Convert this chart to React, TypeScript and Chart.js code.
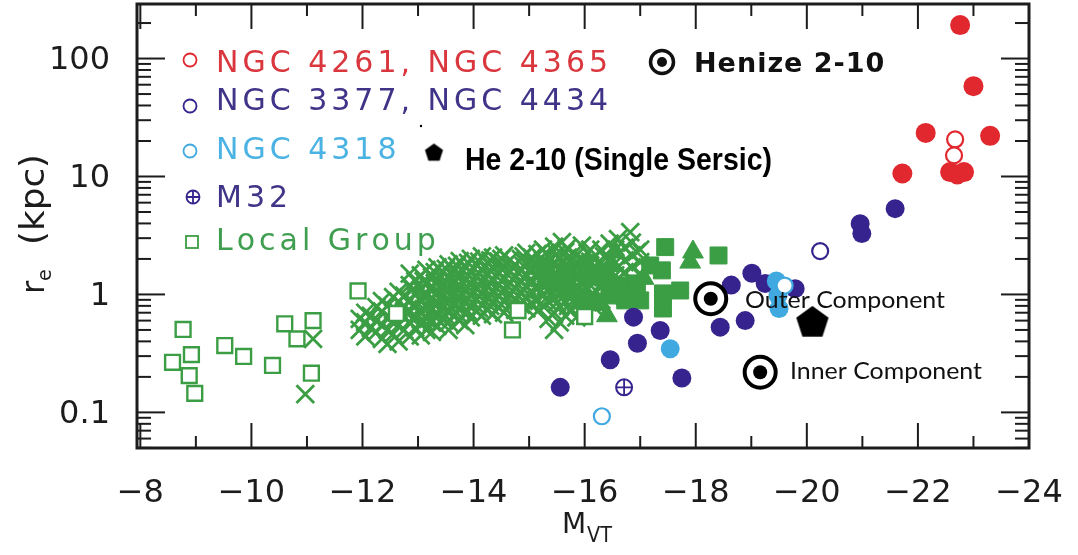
import React, { useEffect, useRef } from 'react';
import { Chart, registerables } from 'chart.js';

Chart.register(...registerables);

// ---------- axis ticks ----------
const X_TICKS = [-8, -10, -12, -14, -16, -18, -20, -22, -24];
const X_MINOR = [-9, -11, -13, -15, -17, -19, -21, -23];
const Y_TICKS = [0.1, 1, 10, 100];

// ---------- data: [M_VT, r_e (kpc)] ----------
const RED_FILLED: [number, number][] = [
  [-22.76, 192], [-23.0, 58.3], [-22.14, 23.4], [-23.3, 22.1], [-21.72, 10.6],
  [-22.58, 10.9], [-22.83, 10.9], [-22.71, 10.4],
];
const RED_OPEN: [number, number][] = [[-22.67, 20.6], [-22.65, 15.1]];

const NAVY_FILLED: [number, number][] = [
  [-15.56, 0.163], [-16.46, 0.279], [-16.88, 0.642], [-16.95, 0.386], [-17.36, 0.495],
  [-17.75, 0.196], [-18.44, 0.528], [-18.89, 0.6], [-18.64, 1.2], [-19.01, 1.51],
  [-19.25, 1.24], [-19.79, 1.12], [-20.96, 3.98], [-20.99, 3.28], [-21.59, 5.34],
];
const NAVY_OPEN: [number, number][] = [[-20.24, 2.33]];

const LBLUE_FILLED: [number, number][] = [[-17.54, 0.346], [-19.45, 1.3], [-19.48, 0.98], [-19.5, 0.76]];
const LBLUE_OPEN: [number, number][] = [[-16.31, 0.0927], [-19.6, 1.19]];

const M32: [number, number][] = [[-16.71, 0.163]];

const HENIZE_COMPONENTS: [number, number][] = [[-18.27, 0.92], [-19.16, 0.219]];
const HE_SINGLE_SERSIC: [number, number][] = [[-20.1, 0.574]];

const LG_OPEN_SQUARES: [number, number][] = [
  [-8.77, 0.505], [-8.58, 0.266], [-8.92, 0.309], [-8.88, 0.205], [-8.98, 0.145],
  [-9.52, 0.369], [-9.86, 0.298], [-10.38, 0.25], [-10.6, 0.564], [-10.82, 0.42],
  [-11.11, 0.6], [-11.08, 0.215], [-11.92, 1.07], [-12.61, 0.69], [-14.8, 0.73],
  [-14.7, 0.5], [-16.0, 0.65],
];

const LG_FILLED_SQUARES: [number, number][] = [
  [-17.45, 2.52], [-18.41, 2.14], [-16.01, 1.82], [-16.06, 1.45], [-16.31, 1.45],
  [-16.69, 1.19], [-16.94, 1.24], [-17.39, 1.6], [-17.41, 1.02], [-17.41, 0.76],
  [-16.51, 0.98], [-16.22, 0.86], [-15.79, 1.05], [-15.68, 1.55], [-15.38, 1.31],
  [-17.0, 0.89], [-17.18, 1.76], [-16.46, 1.19], [-16.73, 0.89], [-15.92, 0.89],
  [-15.28, 1.76], [-17.72, 1.08],
];

const LG_TRIANGLES: [number, number][] = [
  [-17.95, 2.29], [-17.9, 1.88], [-16.55, 2.29], [-16.49, 1.76], [-16.4, 0.66], [-17.06, 1.37],
];

const LG_CROSSES: [number, number][] = [
  [-11.11, 0.42], [-10.97, 0.143],
  [-11.95, 0.5], [-11.95, 0.62],
  [-12.05, 0.44], [-12.05, 0.58], [-12.05, 0.7],
  [-12.15, 0.52], [-12.15, 0.66],
  [-12.25, 0.48], [-12.25, 0.6], [-12.25, 0.78],
  [-12.35, 0.42], [-12.35, 0.55], [-12.35, 0.72], [-12.35, 0.88],
  [-12.45, 0.38], [-12.45, 0.5], [-12.45, 0.64], [-12.45, 0.8],
  [-12.55, 0.46], [-12.55, 0.6], [-12.55, 0.74], [-12.55, 0.95],
  [-12.65, 0.4], [-12.65, 0.55], [-12.65, 0.7], [-12.65, 0.86], [-12.65, 1.05],
  [-12.75, 0.5], [-12.75, 0.64], [-12.75, 0.78], [-12.75, 0.98],
  [-12.85, 0.44], [-12.85, 0.58], [-12.85, 0.72], [-12.85, 0.9], [-12.85, 1.2], [-12.85, 1.5],
  [-12.95, 0.52], [-12.95, 0.66], [-12.95, 0.82], [-12.95, 1.02], [-12.95, 1.3],
  [-13.05, 0.45], [-13.05, 0.56], [-13.05, 0.7], [-13.05, 0.88], [-13.05, 1.1], [-13.05, 1.45],
  [-13.15, 0.5], [-13.15, 0.62], [-13.15, 0.78], [-13.15, 0.96], [-13.15, 1.22], [-13.15, 1.62],
  [-13.25, 0.48], [-13.25, 0.58], [-13.25, 0.74], [-13.25, 0.92], [-13.25, 1.15], [-13.25, 1.4],
  [-13.35, 0.54], [-13.35, 0.68], [-13.35, 0.84], [-13.35, 1.05], [-13.35, 1.3], [-13.35, 1.7],
  [-13.45, 0.62], [-13.45, 0.78], [-13.45, 0.98], [-13.45, 1.2], [-13.45, 1.55],
  [-13.55, 0.5], [-13.55, 0.58], [-13.55, 0.72], [-13.55, 0.9], [-13.55, 1.12], [-13.55, 1.38], [-13.55, 1.8],
  [-13.65, 0.66], [-13.65, 0.82], [-13.65, 1.02], [-13.65, 1.28], [-13.65, 1.6],
  [-13.75, 0.6], [-13.75, 0.76], [-13.75, 0.94], [-13.75, 1.18], [-13.75, 1.48], [-13.75, 1.92],
  [-13.85, 0.55], [-13.85, 0.7], [-13.85, 0.86], [-13.85, 1.08], [-13.85, 1.34], [-13.85, 1.7],
  [-13.95, 0.64], [-13.95, 0.8], [-13.95, 1.0], [-13.95, 1.24], [-13.95, 1.55], [-13.95, 2.0],
  [-14.05, 0.72], [-14.05, 0.9], [-14.05, 1.12], [-14.05, 1.4], [-14.05, 1.8],
  [-14.15, 0.66], [-14.15, 0.82], [-14.15, 1.04], [-14.15, 1.3], [-14.15, 1.62], [-14.15, 2.1],
  [-14.25, 0.74], [-14.25, 0.92], [-14.25, 1.16], [-14.25, 1.45], [-14.25, 1.85],
  [-14.35, 0.68], [-14.35, 0.86], [-14.35, 1.08], [-14.35, 1.35], [-14.35, 1.7], [-14.35, 2.05],
  [-14.45, 0.78], [-14.45, 0.96], [-14.45, 1.2], [-14.45, 1.5], [-14.45, 1.9],
  [-14.55, 0.7], [-14.55, 0.88], [-14.55, 1.1], [-14.55, 1.38], [-14.55, 1.75], [-14.55, 2.15],
  [-14.65, 0.8], [-14.65, 1.0], [-14.65, 1.25], [-14.65, 1.55], [-14.65, 1.95],
  [-14.75, 0.74], [-14.75, 0.92], [-14.75, 1.14], [-14.75, 1.42], [-14.75, 1.78],
  [-14.85, 0.82], [-14.85, 1.02], [-14.85, 1.28], [-14.85, 1.6], [-14.85, 2.0],
  [-14.95, 0.76], [-14.95, 0.95], [-14.95, 1.18], [-14.95, 1.48], [-14.95, 1.85], [-14.95, 2.25],
  [-15.05, 0.84], [-15.05, 1.05], [-15.05, 1.32], [-15.05, 1.65], [-15.05, 2.05],
  [-15.15, 0.72], [-15.15, 0.9], [-15.15, 1.12], [-15.15, 1.4], [-15.15, 1.75], [-15.15, 2.2],
  [-15.25, 0.8], [-15.25, 1.0], [-15.25, 1.25], [-15.25, 1.56], [-15.25, 1.95], [-15.25, 2.4],
  [-15.35, 0.62], [-15.35, 0.86], [-15.35, 1.08], [-15.35, 1.35], [-15.35, 1.68], [-15.35, 2.1],
  [-15.45, 0.5], [-15.45, 0.7], [-15.45, 0.94], [-15.45, 1.18], [-15.45, 1.48], [-15.45, 1.85], [-15.45, 2.55],
  [-15.55, 0.58], [-15.55, 0.78], [-15.55, 1.02], [-15.55, 1.28], [-15.55, 1.6], [-15.55, 2.0],
  [-15.65, 0.66], [-15.65, 0.88], [-15.65, 1.1], [-15.65, 1.4], [-15.65, 1.75], [-15.65, 2.3],
  [-15.75, 0.72], [-15.75, 0.96], [-15.75, 1.2], [-15.75, 1.52], [-15.75, 1.9],
  [-15.85, 0.64], [-15.85, 0.84], [-15.85, 1.06], [-15.85, 1.34], [-15.85, 1.68], [-15.85, 2.15],
  [-15.95, 0.78], [-15.95, 1.0], [-15.95, 1.26], [-15.95, 1.58], [-15.95, 2.0], [-15.95, 2.6],
  [-16.05, 0.86], [-16.05, 1.1], [-16.05, 1.4], [-16.05, 1.75], [-16.05, 2.25],
  [-16.15, 0.8], [-16.15, 1.02], [-16.15, 1.3], [-16.15, 1.62], [-16.15, 2.05],
  [-16.3, 0.9], [-16.3, 1.15], [-16.3, 1.45], [-16.3, 1.85], [-16.3, 2.4],
  [-16.45, 0.96], [-16.45, 1.22], [-16.45, 1.55], [-16.45, 2.0], [-16.45, 2.7],
  [-16.6, 1.05], [-16.6, 1.35], [-16.6, 1.7], [-16.6, 2.2], [-16.6, 2.95],
  [-16.72, 1.2], [-16.72, 1.55], [-16.72, 1.95], [-16.72, 2.5], [-16.82, 3.38],
  [-16.85, 1.3], [-16.85, 1.7], [-16.85, 2.15], [-16.85, 2.75],
  [-17.0, 1.5], [-17.0, 1.88], [-17.0, 2.4], [-16.94, 2.29],
  [-15.59, 2.78], [-15.68, 2.46],
  [-12.9, 0.62], [-12.9, 0.8], [-12.9, 1.1],
  [-13.1, 0.6], [-13.1, 0.75], [-13.1, 0.95], [-13.1, 1.3],
  [-13.3, 0.65], [-13.3, 0.82], [-13.3, 1.0], [-13.3, 1.25], [-13.3, 1.55],
  [-13.5, 0.66], [-13.5, 0.85], [-13.5, 1.05], [-13.5, 1.3], [-13.5, 1.65],
  [-13.7, 0.7], [-13.7, 0.9], [-13.7, 1.1], [-13.7, 1.4], [-13.7, 1.75],
  [-13.9, 0.72], [-13.9, 0.92], [-13.9, 1.15], [-13.9, 1.45], [-13.9, 1.85],
  [-14.1, 0.76], [-14.1, 0.96], [-14.1, 1.2], [-14.1, 1.5], [-14.1, 1.9],
  [-14.3, 0.8], [-14.3, 1.0], [-14.3, 1.25], [-14.3, 1.6], [-14.3, 1.95],
  [-14.5, 0.82], [-14.5, 1.04], [-14.5, 1.3], [-14.5, 1.65], [-14.5, 2.0],
  [-14.7, 0.86], [-14.7, 1.08], [-14.7, 1.35], [-14.7, 1.7],
  [-14.9, 0.88], [-14.9, 1.1], [-14.9, 1.38], [-14.9, 1.75], [-14.9, 2.1],
  [-15.1, 0.9], [-15.1, 1.15], [-15.1, 1.45], [-15.1, 1.8],
  [-15.3, 0.92], [-15.3, 1.18], [-15.3, 1.5], [-15.3, 1.85], [-15.3, 2.25],
  [-15.5, 0.85], [-15.5, 1.1], [-15.5, 1.4], [-15.5, 1.75], [-15.5, 2.2],
  [-15.7, 0.8], [-15.7, 1.05], [-15.7, 1.3], [-15.7, 1.65], [-15.7, 2.05],
  [-15.9, 0.9], [-15.9, 1.15], [-15.9, 1.45], [-15.9, 1.8],
  [-16.1, 0.95], [-16.1, 1.2], [-16.1, 1.5], [-16.1, 1.9], [-16.1, 2.4],
  [-16.35, 1.05], [-16.35, 1.3], [-16.35, 1.65], [-16.35, 2.1],
  [-16.55, 1.1], [-16.55, 1.45], [-16.55, 1.85], [-16.55, 2.4],
];

// ---------- colours ----------
const RED = '#e0282e';
const NAVY = '#37238e';
const LBLUE = '#3fa9e0';
const GREEN = '#3c9e44';
const INK = '#1c1c1c';

const pts = (a: [number, number][]) => a.map(([x, y]) => ({ x, y }));

function pentagonImage(R: number, color: string) {
  const c = document.createElement('canvas');
  const s = Math.ceil(2 * R + 4);
  c.width = s;
  c.height = s;
  const g = c.getContext('2d')!;
  g.fillStyle = color;
  g.beginPath();
  for (let i = 0; i < 5; i++) {
    const a = -Math.PI / 2 + (i * 2 * Math.PI) / 5;
    const px = s / 2 + R * Math.cos(a);
    const py = s / 2 + R * Math.sin(a);
    if (i === 0) g.moveTo(px, py);
    else g.lineTo(px, py);
  }
  g.closePath();
  g.fill();
  return c;
}

function drawSpaced(ctx: CanvasRenderingContext2D, text: string, x: number, y: number, spacing: number) {
  let cx = x;
  for (const ch of text) {
    ctx.fillText(ch, cx, y);
    cx += ctx.measureText(ch).width + spacing;
  }
}

function drawFit(ctx: CanvasRenderingContext2D, text: string, x: number, y: number, width: number) {
  const w = ctx.measureText(text).width;
  ctx.save();
  ctx.translate(x, y);
  ctx.scale(width / w, 1);
  ctx.fillText(text, 0, 0);
  ctx.restore();
}

const framePlugin = {
  id: 'frameTicks',
  afterDatasetsDraw(chart: any) {
    const { ctx, chartArea: a, scales } = chart;
    const xs = scales.x;
    const ys = scales.y;
    ctx.save();
    ctx.strokeStyle = INK;
    ctx.lineWidth = 2;
    const line = (x1: number, y1: number, x2: number, y2: number) => {
      ctx.beginPath();
      ctx.moveTo(x1, y1);
      ctx.lineTo(x2, y2);
      ctx.stroke();
    };
    for (const v of X_TICKS) {
      const p = xs.getPixelForValue(v);
      line(p, a.bottom, p, a.bottom - 25);
      line(p, a.top, p, a.top + 25);
    }
    for (const v of X_MINOR) {
      const p = xs.getPixelForValue(v);
      line(p, a.bottom, p, a.bottom - 12);
      line(p, a.top, p, a.top + 12);
    }
    for (let d = -2; d <= 2; d++) {
      for (let m = 1; m <= 9; m++) {
        const val = m * Math.pow(10, d);
        if (val < ys.min || val > ys.max) continue;
        const p = ys.getPixelForValue(val);
        const len = m === 1 ? 28 : 14;
        line(a.left, p, a.left + len, p);
        line(a.right, p, a.right - len, p);
      }
    }
    ctx.lineWidth = 3;
    ctx.strokeRect(a.left, a.top, a.right - a.left, a.bottom - a.top);
    ctx.restore();
  },
};

const annotationPlugin = {
  id: 'annotations',
  afterDraw(chart: any) {
    const ctx: CanvasRenderingContext2D = chart.ctx;
    ctx.save();
    ctx.textBaseline = 'alphabetic';
    ctx.textAlign = 'left';

    // legend rows
    const rows: { text: string; color: string; marker: string; mx: number; my: number; base: number; mc: string }[] = [
      { text: 'NGC 4261, NGC 4365', color: '#d9363e', mc: RED, marker: 'o', mx: 190, my: 60, base: 72 },
      { text: 'NGC 3377, NGC 4434', color: '#3f3488', mc: NAVY, marker: 'o', mx: 190, my: 106, base: 110 },
      { text: 'NGC 4318', color: '#4bb3e3', mc: LBLUE, marker: 'o', mx: 190, my: 151, base: 159 },
      { text: 'M32', color: '#3f3488', mc: NAVY, marker: '+', mx: 193, my: 197, base: 207 },
      { text: 'Local Group', color: '#3f9e4f', mc: GREEN, marker: 's', mx: 192, my: 242, base: 250 },
    ];
    ctx.font = '30px "DejaVu Sans"';
    for (const r of rows) {
      ctx.strokeStyle = r.mc;
      ctx.lineWidth = 1.8;
      if (r.marker === 's') {
        ctx.strokeRect(r.mx - 6, r.my - 6, 12, 12);
      } else {
        ctx.beginPath();
        ctx.arc(r.mx, r.my, 6.5, 0, Math.PI * 2);
        ctx.stroke();
        if (r.marker === '+') {
          ctx.beginPath();
          ctx.moveTo(r.mx - 6.5, r.my);
          ctx.lineTo(r.mx + 6.5, r.my);
          ctx.moveTo(r.mx, r.my - 6.5);
          ctx.lineTo(r.mx, r.my + 6.5);
          ctx.stroke();
        }
      }
      ctx.fillStyle = r.color;
      drawSpaced(ctx, r.text, 216, r.base, 4);
    }

    // Henize 2-10 legend
    ctx.strokeStyle = '#111';
    ctx.lineWidth = 3.5;
    ctx.beginPath();
    ctx.arc(662, 62, 11.5, 0, Math.PI * 2);
    ctx.stroke();
    ctx.fillStyle = '#111';
    ctx.beginPath();
    ctx.arc(662, 62, 5, 0, Math.PI * 2);
    ctx.fill();
    ctx.font = 'bold 27px "DejaVu Sans"';
    drawSpaced(ctx, 'Henize 2-10', 694, 72, 1);

    // He 2-10 single Sersic legend
    const pent = pentagonImage(9.5, '#000');
    ctx.drawImage(pent, 434 - pent.width / 2, 153 - pent.height / 2);
    ctx.fillStyle = '#000';
    ctx.font = 'bold 32px "Liberation Sans"';
    drawFit(ctx, 'He 2-10 (Single Sersic)', 465, 170, 307);
    ctx.beginPath();
    ctx.arc(421, 126, 1.2, 0, Math.PI * 2);
    ctx.fill();

    // component labels
    ctx.fillStyle = '#111';
    ctx.font = '23px Lato';
    drawFit(ctx, 'Outer Component', 745, 308, 200);
    drawFit(ctx, 'Inner Component', 790, 379, 192);

    // axis titles
    ctx.fillStyle = INK;
    ctx.save();
    ctx.translate(44, 294);
    ctx.rotate(-Math.PI / 2);
    ctx.font = '32px "DejaVu Sans"';
    ctx.fillText('r', 0, 0);
    ctx.font = '19px "DejaVu Sans"';
    ctx.fillText('e', 13, 7);
    ctx.font = '33px "DejaVu Sans"';
    drawFit(ctx, '(kpc)', 49, 0, 91);
    ctx.restore();

    ctx.font = '28px "DejaVu Sans"';
    ctx.fillText('M', 562, 533);
    ctx.font = '21px "DejaVu Sans"';
    drawFit(ctx, 'VT', 587, 542, 25);
    ctx.restore();
  },
};

const fmtX = (v: number) => (v < 0 ? '\u2212' + Math.abs(v) : String(v));

const noPad = (s: any) => {
  s.paddingTop = 0;
  s.paddingBottom = 0;
  s.paddingLeft = 0;
  s.paddingRight = 0;
};

export default function App() {
  const ref = useRef<HTMLCanvasElement | null>(null);

  useEffect(() => {
    if (!ref.current) return;
    const pent = pentagonImage(17, '#000');
    const chart = new Chart(ref.current, {
      type: 'scatter',
      data: {
        datasets: [
          { label: 'He 2-10 (Single Sersic)', data: pts(HE_SINGLE_SERSIC), pointStyle: pent as any, pointRadius: 17 },
          { label: 'Henize core', data: pts(HENIZE_COMPONENTS), pointStyle: 'circle', pointRadius: 7, backgroundColor: '#000', borderColor: '#000', borderWidth: 0 },
          { label: 'Henize ring', data: pts(HENIZE_COMPONENTS), pointStyle: 'circle', pointRadius: 15.5, backgroundColor: '#fff', borderColor: '#000', borderWidth: 4 },
          { label: 'NGC 4261, NGC 4365 (open)', data: pts(RED_OPEN), pointStyle: 'circle', pointRadius: 8, backgroundColor: '#fff', borderColor: RED, borderWidth: 2.2 },
          { label: 'NGC 4261, NGC 4365', data: pts(RED_FILLED), pointStyle: 'circle', pointRadius: 10, backgroundColor: RED, borderColor: RED, borderWidth: 0 },
          { label: 'NGC 4318 (open)', data: pts(LBLUE_OPEN), pointStyle: 'circle', pointRadius: 8, backgroundColor: '#fff', borderColor: LBLUE, borderWidth: 2.2 },
          { label: 'NGC 3377, NGC 4434 (open)', data: pts(NAVY_OPEN), pointStyle: 'circle', pointRadius: 8, backgroundColor: '#fff', borderColor: NAVY, borderWidth: 2.2 },
          { label: 'NGC 4318', data: pts(LBLUE_FILLED), pointStyle: 'circle', pointRadius: 9.5, backgroundColor: LBLUE, borderColor: LBLUE, borderWidth: 0 },
          { label: 'M32 cross', data: pts(M32), pointStyle: 'cross', pointRadius: 8, borderColor: NAVY, borderWidth: 1.8 },
          { label: 'M32', data: pts(M32), pointStyle: 'circle', pointRadius: 8, backgroundColor: '#fff', borderColor: NAVY, borderWidth: 2 },
          { label: 'NGC 3377, NGC 4434', data: pts(NAVY_FILLED), pointStyle: 'circle', pointRadius: 9.5, backgroundColor: NAVY, borderColor: NAVY, borderWidth: 0 },
          { label: 'Local Group (open)', data: pts(LG_OPEN_SQUARES), pointStyle: 'rect', pointRadius: 10.5, backgroundColor: '#fff', borderColor: GREEN, borderWidth: 2.4 },
          { label: 'Local Group triangles', data: pts(LG_TRIANGLES), pointStyle: 'triangle', pointRadius: 12, backgroundColor: GREEN, borderColor: GREEN, borderWidth: 1 },
          { label: 'Local Group squares', data: pts(LG_FILLED_SQUARES), pointStyle: 'rect', pointRadius: 12, backgroundColor: GREEN, borderColor: GREEN, borderWidth: 1 },
          { label: 'Local Group crosses', data: pts(LG_CROSSES), pointStyle: 'crossRot', pointRadius: 12.5, borderColor: GREEN, borderWidth: 2.8 },
        ],
      },
      options: {
        animation: false,
        responsive: false,
        events: [],
        layout: { autoPadding: false, padding: { left: 0, top: 4, right: 49, bottom: 0 } },
        plugins: { legend: { display: false }, tooltip: { enabled: false } },
        scales: {
          x: {
            type: 'linear',
            min: -24,
            max: -7.94,
            reverse: true,
            grid: { display: false },
            border: { display: false },
            afterFit: (s: any) => { s.height = 107; noPad(s); },
            afterBuildTicks: (s: any) => { s.ticks = X_TICKS.map((v) => ({ value: v })); },
            ticks: {
              autoSkip: false,
              maxRotation: 0,
              padding: 18,
              color: INK,
              font: { family: '"DejaVu Sans"', size: 32 },
              callback: (v: any) => fmtX(Number(v)),
            },
          },
          y: {
            type: 'logarithmic',
            min: 0.0499,
            max: 290,
            grid: { display: false },
            border: { display: false },
            afterFit: (s: any) => { s.width = 137; noPad(s); },
            afterBuildTicks: (s: any) => { s.ticks = Y_TICKS.map((v) => ({ value: v })); },
            ticks: {
              autoSkip: false,
              padding: 19,
              labelOffset: 2,
              color: INK,
              font: { family: '"DejaVu Sans"', size: 32 },
              callback: (v: any) => String(v),
            },
          },
        },
      },
      plugins: [framePlugin, annotationPlugin],
    });
    let alive = true;
    if ((document as any).fonts && (document as any).fonts.ready) {
      (document as any).fonts.ready.then(() => { if (alive) chart.update(); });
    }
    return () => {
      alive = false;
      chart.destroy();
    };
  }, []);

  return (
    <div style={{ position: 'fixed', left: 0, top: 0, width: 1078, height: 555, background: '#fff' }}>
      <canvas ref={ref} width={1078} height={555} style={{ width: 1078, height: 555, display: 'block' }} />
    </div>
  );
}
